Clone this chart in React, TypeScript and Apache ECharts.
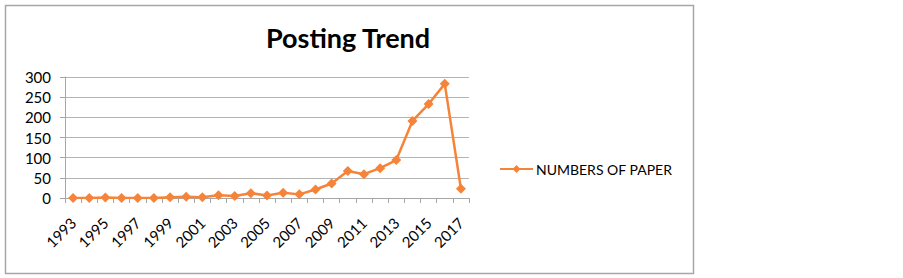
import React, { useEffect, useRef } from "react";
import * as echarts from "echarts";

const years = [
  "1993","1994","1995","1996","1997","1998","1999","2000","2001","2002","2003","2004","2005",
  "2006","2007","2008","2009","2010","2011","2012","2013","2014","2015","2016","2017",
];
const papers = [0, 0, 1, 0, 0, 0, 2, 3, 2, 7, 5, 12, 6, 13, 9, 21, 36, 67, 59, 74, 94, 191, 233, 283, 23];
const seriesName = "NUMBERS OF PAPER";
const titleText = "Posting Trend";

const FONT = "Lato, 'Open Sans', sans-serif";

export default function App() {
  const ref = useRef<HTMLDivElement>(null);
  useEffect(() => {
    if (!ref.current) return;
    const chart = echarts.init(ref.current, null, { renderer: "svg" });
    chart.setOption({
      animation: false,
      backgroundColor: "#ffffff",
      title: {
        text: titleText,
        left: 261,
        top: 19,
        textStyle: { fontFamily: FONT, fontWeight: "bold", fontSize: 27, color: "#000" },
      },
      graphic: [
        {
          type: "rect",
          shape: { x: 5.5, y: 5.5, width: 688, height: 268 },
          style: { fill: "none", stroke: "#a6a6a6", lineWidth: 1.5 },
          silent: true,
        },
      ],
      legend: {
        left: 494,
        top: 157,
        itemWidth: 33,
        itemHeight: 10,
        itemGap: 4,
        textStyle: { fontFamily: FONT, fontSize: 14, color: "#000", padding: [0, 0, 0, -2] },
        data: [seriesName],
      },
      grid: { left: 65, right: 434, top: 77, bottom: 80, containLabel: false },
      xAxis: {
        type: "category",
        data: years,
        boundaryGap: true,
        axisLine: { lineStyle: { color: "#a6a6a6", width: 1 } },
        axisTick: { show: true, alignWithLabel: false, interval: 0, length: 5, lineStyle: { color: "#a6a6a6" } },
        axisLabel: { interval: 1, rotate: 45, margin: 22, fontFamily: FONT, fontSize: 15, color: "#000" },
        splitLine: { show: false },
      },
      yAxis: {
        type: "value",
        min: 0,
        max: 300,
        interval: 50,
        axisLine: { show: true, lineStyle: { color: "#a6a6a6", width: 1 } },
        axisTick: { show: true, length: 5, lineStyle: { color: "#a6a6a6" } },
        axisLabel: { margin: 14, fontFamily: FONT, fontSize: 15, color: "#000" },
        splitLine: { show: true, lineStyle: { color: "#b3b3b3", width: 1.2 } },
      },
      series: [
        {
          name: seriesName,
          type: "line",
          data: papers,
          symbol: "diamond",
          symbolSize: 10,
          showSymbol: true,
          itemStyle: { color: "#f5843a" },
          lineStyle: { color: "#f5843a", width: 2.5 },
        },
      ],
    });
    return () => chart.dispose();
  }, []);
  return (
    <div
      ref={ref}
      style={{ position: "fixed", left: 0, top: 0, width: 903, height: 278, background: "#fff" }}
    />
  );
}
